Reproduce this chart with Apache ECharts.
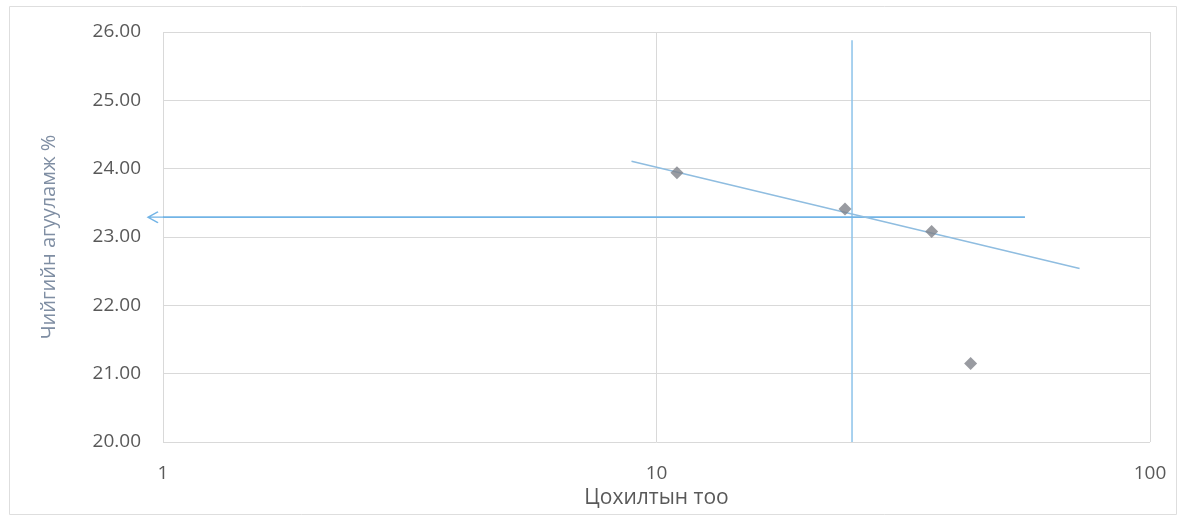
<!DOCTYPE html>
<html>
<head>
<meta charset="utf-8">
<script src="https://cdn.jsdelivr.net/npm/echarts@6/dist/echarts.min.js"></script>
<style>
  html, body { margin: 0; padding: 0; background: #ffffff; }
  #chart { width: 1180px; height: 520px; }
</style>
</head>
<body>
<div id="chart"></div>
<script>
// Measured samples: blow count (log scale) vs. moisture content
const blowCounts = [11.0, 24.1, 36.1, 43.3];
const moisture = [23.94, 23.41, 23.08, 21.15];

// Fitted trend line end points
const trendX = [8.9, 72.0];
const trendY = [24.11, 22.54];

// Reading at 25 blows: vertical guide and horizontal arrow back to the y axis
const guideX = [24.9, 24.9];
const guideY = [20.0, 25.88];
const readX = [1.0, 55.8];
const readY = [23.29, 23.29];

const xAxisTitle = 'Цохилтын тоо';
const yAxisTitle = 'Чийгийн агууламж %';
const yRange = [20, 26];
const yStep = 1;

const pairs = (xs, ys) => xs.map((x, i) => [x, ys[i]]);

const labelFont = { color: '#595959', fontFamily: 'Open Sans', fontSize: 19 };
const gridColor = '#d9d9d9';

const chart = echarts.init(document.getElementById('chart'), null, { renderer: 'canvas' });

// open arrow head with its own stem, pointing left at the start of the reading line
const arrowHead = 'path://M10,0 L0,5 L10,10 M0,5 L16,5';
const readData = pairs(readX, readY).map((p, i) => i === 0
  ? { value: p, symbol: arrowHead, symbolSize: [16, 11], symbolOffset: [-7, 0] }
  : { value: p, symbol: 'none' });

chart.setOption({
  animation: false,
  backgroundColor: '#ffffff',
  graphic: [{
    type: 'rect',
    shape: { x: 9.5, y: 6.5, width: 1167, height: 508 },
    style: { fill: 'none', stroke: '#dedede', lineWidth: 1 },
    silent: true
  }],
  grid: { left: 163, right: 30, top: 32, bottom: 78 },
  xAxis: {
    type: 'log',
    logBase: 10,
    min: 1,
    max: 100,
    name: xAxisTitle,
    nameLocation: 'middle',
    nameGap: 34,
    nameTextStyle: { color: '#595959', fontFamily: 'Open Sans', fontSize: 21 },
    axisLine: { show: false },
    axisTick: { show: false },
    axisLabel: Object.assign({ margin: 22 }, labelFont),
    splitLine: { show: true, lineStyle: { color: gridColor, width: 1 } }
  },
  yAxis: {
    type: 'value',
    min: yRange[0],
    max: yRange[1],
    interval: yStep,
    name: yAxisTitle,
    nameLocation: 'middle',
    nameRotate: 90,
    nameGap: 104,
    nameTextStyle: { color: '#7f8ea3', fontFamily: 'Open Sans', fontSize: 20 },
    axisLine: { show: false },
    axisTick: { show: false },
    axisLabel: Object.assign({ margin: 22, formatter: v => v.toFixed(2) }, labelFont),
    splitLine: { show: true, lineStyle: { color: gridColor, width: 1 } }
  },
  series: [
    {
      name: 'guide',
      type: 'line',
      data: pairs(guideX, guideY),
      symbol: 'none',
      lineStyle: { color: '#8cc3ea', width: 1.5 },
      z: 2
    },
    {
      name: 'reading',
      type: 'line',
      clip: false,
      data: readData,
      itemStyle: { color: 'none', borderColor: '#72b4e6', borderWidth: 1.5 },
      lineStyle: { color: '#72b4e6', width: 1.8 },
      z: 3
    },
    {
      name: 'trend',
      type: 'line',
      data: pairs(trendX, trendY),
      symbol: 'none',
      lineStyle: { color: '#8fbde0', width: 1.5 },
      z: 3
    },
    {
      name: 'samples',
      type: 'scatter',
      data: pairs(blowCounts, moisture),
      symbol: 'diamond',
      symbolSize: 13,
      itemStyle: { color: '#808289' },
      z: 5
    }
  ]
});
</script>
</body>
</html>
